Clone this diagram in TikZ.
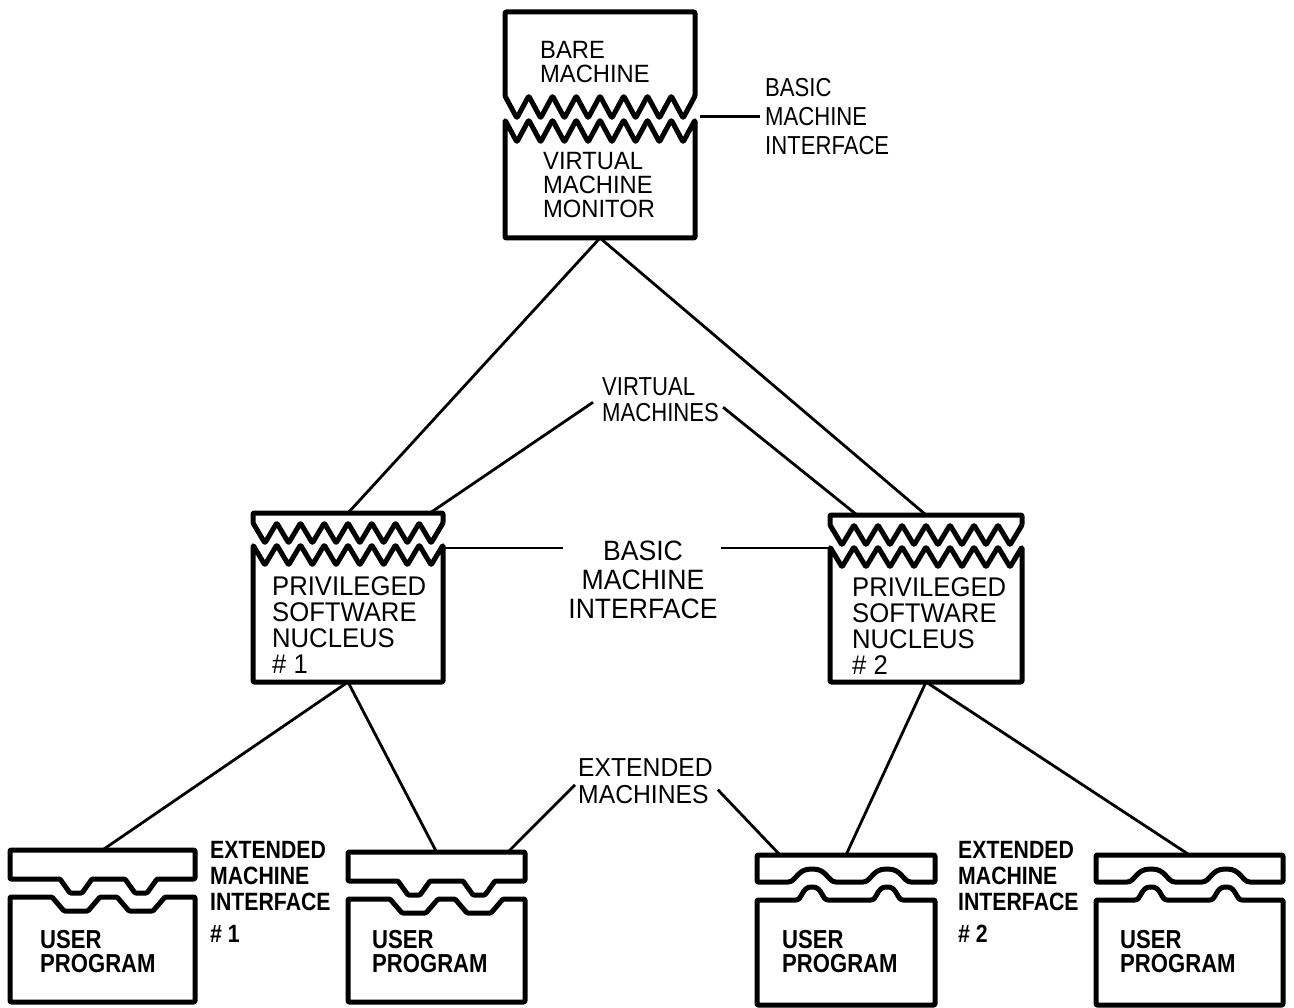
\documentclass[tikz,border=0pt]{standalone}
\usepackage{fontspec}
\setmainfont{Liberation Sans}
\newfontfamily\lblfont{Liberation Sans}[FakeStretch=0.85]
\newfontfamily\boxfont{Liberation Sans}[FakeStretch=0.95]

\begin{document}
\begin{tikzpicture}[x=1pt,y=-1pt,
    outline/.style={line width=5pt,line join=round,rounded corners=1pt},
    wire/.style={line width=2.8pt},
    frame/.style={inner sep=0pt,outer sep=0pt,anchor=north west},
    lbl/.style={inner sep=0pt,anchor=north west,align=left,font=\lblfont\fontsize{26}{29}\selectfont},
    boxtxt/.style={inner sep=0pt,anchor=north west,align=left,font=\boxfont\fontsize{25}{24}\selectfont},
    usertxt/.style={inner sep=0pt,anchor=north west,align=left,font=\lblfont\bfseries\fontsize{26}{24}\selectfont}]
    \useasboundingbox (0,0) rectangle (1294,1008);

    % frames of the machines
    \node[frame,minimum width=190pt,minimum height=226pt] (vmm) at (505,12) {};
    \node[frame,minimum width=190pt,minimum height=169pt] (psn1) at (253,513) {};
    \node[frame,minimum width=192pt,minimum height=167pt] (psn2) at (830,515) {};
    \node[frame,minimum width=185pt,minimum height=152pt] (up1) at (10,850) {};
    \node[frame,minimum width=177pt,minimum height=150pt] (up2) at (348,852) {};
    \node[frame,minimum width=178pt,minimum height=150pt] (up3) at (757,855) {};
    \node[frame,minimum width=187pt,minimum height=150pt] (up4) at (1096,855) {};

    % bare machine / virtual machine monitor
    \begin{scope}[shift={(vmm.north west)}]
        \draw[outline] (0,84) -- (0,0) -- (190,0) -- (190,84)
            \foreach \i in {8,...,2} {-- ({(\i-0.5)*190/8},106) -- ({(\i-1)*190/8},84)}
            -- ({0.5*190/8},106) -- cycle;
        \draw[outline] (0,226) -- (0,108)
            \foreach \i in {1,...,8} {-- ({(\i-0.5)*190/8},130) -- ({\i*190/8},108)}
            -- (190,226) -- cycle;
    \end{scope}

    % privileged software nuclei
    \begin{scope}[shift={(psn1.north west)}]
        \draw[outline] (0,10) -- (0,0) -- (190,0) -- (190,10)
            \foreach \i in {8,...,2} {-- ({(\i-0.5)*190/8},30) -- ({(\i-1)*190/8},10)}
            -- ({0.5*190/8},30) -- cycle;
        \draw[outline] (0,169) -- (0,32)
            \foreach \i in {1,...,8} {-- ({(\i-0.5)*190/8},52) -- ({\i*190/8},32)}
            -- (190,169) -- cycle;
    \end{scope}
    \begin{scope}[shift={(psn2.north west)}]
        \draw[outline] (0,10) -- (0,0) -- (192,0) -- (192,10)
            \foreach \i in {8,...,2} {-- ({(\i-0.5)*192/8},30) -- ({(\i-1)*192/8},10)}
            -- ({0.5*192/8},30) -- cycle;
        \draw[outline] (0,167) -- (0,32)
            \foreach \i in {1,...,8} {-- ({(\i-0.5)*192/8},52) -- ({\i*192/8},32)}
            -- (192,167) -- cycle;
    \end{scope}

    % user programs, interface #1
    \begin{scope}[shift={(up1.north west)}]
        \draw[outline] (0,0) -- (185,0) -- (185,29) -- (147,29) -- (137,43) -- (125,43) -- (115,29)
            -- (82,29) -- (72,43) -- (60,43) -- (50,29) -- (0,29) -- cycle;
        \draw[outline] (0,152) -- (0,47) -- (42,47) -- (54,61) -- (78,61) -- (90,47) -- (107,47)
            -- (119,61) -- (143,61) -- (155,47) -- (185,47) -- (185,152) -- cycle;
    \end{scope}
    \begin{scope}[shift={(up2.north west)}]
        \draw[outline] (0,0) -- (177,0) -- (177,29) -- (147,29) -- (137,43) -- (125,43) -- (115,29)
            -- (82,29) -- (72,43) -- (60,43) -- (50,29) -- (0,29) -- cycle;
        \draw[outline] (0,150) -- (0,47) -- (42,47) -- (54,61) -- (78,61) -- (90,47) -- (107,47)
            -- (119,61) -- (143,61) -- (155,47) -- (177,47) -- (177,150) -- cycle;
    \end{scope}

    % user programs, interface #2
    \begin{scope}[shift={(up3.north west)}]
        \draw[outline] (0,0) -- (178,0) -- (178,27) -- (155,27) .. controls (146,27) and (145,14) .. (130,14)
            .. controls (115,14) and (114,27) .. (105,27) -- (80,27) .. controls (71,27) and (70,14) .. (55,14)
            .. controls (40,14) and (39,27) .. (30,27) -- (0,27) -- cycle;
        \draw[outline] (0,150) -- (0,45) -- (38,45) .. controls (45,45) and (45,32) .. (55,32)
            .. controls (65,32) and (65,45) .. (72,45) -- (113,45) .. controls (120,45) and (120,32) .. (130,32)
            .. controls (140,32) and (140,45) .. (147,45) -- (178,45) -- (178,150) -- cycle;
    \end{scope}
    \begin{scope}[shift={(up4.north west)}]
        \draw[outline] (0,0) -- (187,0) -- (187,27) -- (155,27) .. controls (146,27) and (145,14) .. (130,14)
            .. controls (115,14) and (114,27) .. (105,27) -- (80,27) .. controls (71,27) and (70,14) .. (55,14)
            .. controls (40,14) and (39,27) .. (30,27) -- (0,27) -- cycle;
        \draw[outline] (0,150) -- (0,45) -- (38,45) .. controls (45,45) and (45,32) .. (55,32)
            .. controls (65,32) and (65,45) .. (72,45) -- (113,45) .. controls (120,45) and (120,32) .. (130,32)
            .. controls (140,32) and (140,45) .. (147,45) -- (187,45) -- (187,150) -- cycle;
    \end{scope}

    % texts in the frames
    \node[boxtxt] (bare) at (540,41) {BARE\\MACHINE};
    \node[boxtxt] (mon) at (543,152) {VIRTUAL\\MACHINE\\MONITOR};
    \node[boxtxt,font=\boxfont\fontsize{27}{26}\selectfont] (nuc1) at (272,576) {PRIVILEGED\\SOFTWARE\\NUCLEUS\\\# 1};
    \node[boxtxt,font=\boxfont\fontsize{27}{26}\selectfont] (nuc2) at (852,577) {PRIVILEGED\\SOFTWARE\\NUCLEUS\\\# 2};
    \node[usertxt] (user1) at (40,930) {USER\\PROGRAM};
    \node[usertxt] (user2) at (372,930) {USER\\PROGRAM};
    \node[usertxt] (user3) at (782,930) {USER\\PROGRAM};
    \node[usertxt] (user4) at (1120,930) {USER\\PROGRAM};

    % labels
    \node[lbl] (bmi0) at (765,78) {BASIC\\MACHINE\\INTERFACE};
    \node[lbl,font=\lblfont\fontsize{26}{26}\selectfont] (vm) at (602,377) {VIRTUAL\\MACHINES};
    \node[lbl,anchor=north,align=center,font=\boxfont\fontsize{28}{29}\selectfont] (bmi1) at (643,541) {BASIC\\MACHINE\\INTERFACE};
    \node[lbl,font=\boxfont\fontsize{26}{27}\selectfont] (em) at (578,758) {EXTENDED\\MACHINES};
    \node[usertxt,font=\lblfont\bfseries\fontsize{25}{26}\selectfont] (emi1) at (210,841) {EXTENDED\\MACHINE\\INTERFACE\\[6pt]\# 1};
    \node[usertxt,font=\lblfont\bfseries\fontsize{25}{26}\selectfont] (emi2) at (958,841) {EXTENDED\\MACHINE\\INTERFACE\\[6pt]\# 2};

    % virtual machines
    \draw[wire] (vmm.south) -- (psn1.north);
    \draw[wire] (vmm.south) -- (psn2.north);
    % extended machines
    \draw[wire] (psn1.south) -- (up1.north);
    \draw[wire] (psn1.south) -- (up2.north);
    \draw[wire] (psn2.south) -- (up3.north);
    \draw[wire] (psn2.south) -- (up4.north);

    % label lines
    \coordinate (vmm-r) at ([xshift=5pt]vmm.east);
    \draw[wire] (vmm-r |- bmi0.west) -- ([xshift=-5pt]bmi0.west);
    \draw[wire] ([xshift=-9pt,yshift=-3pt]vm.west) -- ([xshift=-13pt]psn1.north east);
    \draw[wire] ([xshift=4pt,yshift=-8pt]vm.east) -- ([xshift=27pt]psn2.north west);
    \coordinate (bmi1-l) at ([xshift=-5pt,yshift=-7pt]bmi1.north west);
    \coordinate (bmi1-r) at ([xshift=3pt,yshift=-7pt]bmi1.north east);
    \draw[wire] (psn1.east |- bmi1-l) -- (bmi1-l);
    \draw[wire] (bmi1-r) -- (psn2.west |- bmi1-r);
    \draw[wire] ([xshift=-3pt,yshift=-4pt]em.west) -- ([xshift=-17pt]up2.north east);
    \draw[wire] ([xshift=5pt,yshift=-9pt]em.east) -- ([xshift=23pt]up3.north west);
\end{tikzpicture}
\end{document}
